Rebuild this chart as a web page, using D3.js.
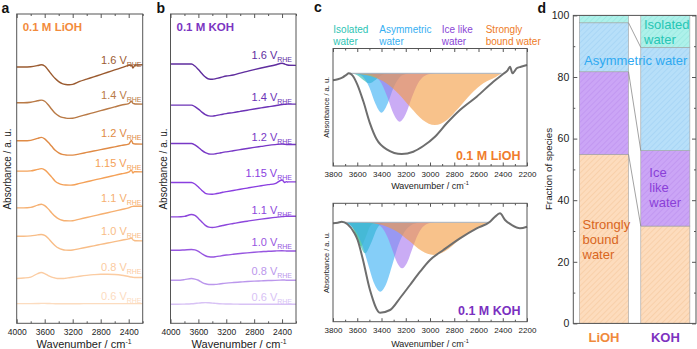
<!DOCTYPE html>
<html><head><meta charset="utf-8">
<script src="https://cdn.jsdelivr.net/npm/d3@7"></script>
<style>body{margin:0;background:#fff}svg{display:block}</style>
</head><body><svg id="chart" width="697" height="349"></svg>
<script>
// ---------------- DATA ----------------
const wnGrid = [4000,3900,3800,3700,3650,3600,3550,3500,3450,3400,3350,3300,3250,3200,3100,3000,2900,2800,2700,2600,2500,2400,2360,2340,2320,2300,2200];
const potentials = ["1.6","1.4","1.2","1.15","1.1","1.0","0.8","0.6"];
const liohSpectra = [
 [256,256,256.3,257.5,258.3,257,253,248.5,244.5,241.5,239.5,238.6,238.3,238.7,241.6,243.9,246.2,248.5,250.8,253.1,255.4,257.7,258,255,257,258,258.3],
 [220.3,220.3,220.8,222.3,223,221.8,218.3,213.8,209.8,207.3,205.7,205,204.7,204.8,206.7,208.6,210.5,212.4,214.3,216.2,218.1,219.5,221.8,219.8,219.3,219.1,219],
 [182.3,182.3,182.8,184.8,185.7,184.3,180.8,176.8,172.8,170.3,168.8,168.2,168,168,169.3,170.7,172.1,173.5,174.9,176.3,177.7,179.1,182.6,179.8,179.3,179.1,179],
 [152,152,152.3,153.8,154.5,153.2,150,146,142,139.7,138.5,138.1,138,138.2,139.8,141.4,143,144.6,146.2,147.8,149.4,151,153,150,151.5,151.4,151.3],
 [115.3,115.3,115.8,118.1,119,117.6,114.3,110.3,106.8,104.3,103,102.4,102.3,102.5,104.1,105.7,107.3,108.9,110.5,112.1,113.7,115.3,116.5,116.8,116.9,117,117],
 [87,87,87.3,88.3,88.7,87.8,85,81,77.5,75,73.7,73.1,73,73.2,74.6,76,77.4,78.8,80.2,81.6,83,84.4,85.2,83.5,82.7,82.5,82.3],
 [44.7,45.2,46.2,49.7,50.7,49.7,47.7,46.2,45.2,44.7,44.7,45,45.5,46,47,47.9,48.6,49,49,48.7,48,46.7,46.2,46,45.8,45.7,45.7],
 [19.7,19.7,19.7,19.8,19.9,19.9,19.8,19.7,19.6,19.6,19.6,19.6,19.6,19.6,19.6,19.7,19.7,19.7,19.7,19.7,19.7,19.7,19.7,19.7,19.7,19.7,19.7]
];
const kohSpectra = [
 [259,259,259,259,257,253.5,249.5,246,244,243.8,244.4,245.3,246.2,247,248,250,251.7,253.4,255,256.5,258,259.8,259,258.5,258,257.8,257.7],
 [218,218,218,218,216.5,214,211,208.5,207.2,207,207.5,208.2,208.9,209.5,210.5,211.7,212.9,214.1,215.2,216.3,217.3,218.6,218.8,218.9,219,219,219],
 [179.7,179.7,179.7,179.7,178.2,175.7,172.7,170.4,169.2,169,169.4,170,170.7,171.3,172.4,173.5,174.6,175.7,176.7,177.7,178.5,179.1,178.9,178.7,178.7,178.7,178.7],
 [140.7,140.7,140.7,140.7,139.2,136.2,132.7,129.9,129.1,129,129.4,130.1,130.9,131.5,132.7,133.9,135.1,136.3,137.4,138.5,139.5,143.2,140.7,141.5,141.2,141.3,141.3],
 [106.3,106.3,106.8,108.7,107.8,104.8,101.3,97.8,96.1,95.7,96.1,96.9,97.7,98.5,99.7,100.9,102,103.1,104.1,105,105.8,106.6,106.8,106.9,107,107,107],
 [73,73,73.3,73.7,73.3,71.8,69.5,67.5,66.5,66.3,66.6,67.1,67.7,68.2,69,69.7,70.4,71,71.5,72,72.3,72.5,72.4,72.3,72.3,72.3,72.3],
 [43,43,43.6,44.7,44.2,43,41,39.5,38.8,38.7,38.9,39.3,39.7,40.1,40.7,41.2,41.7,42.1,42.4,42.7,42.9,43.2,43.3,43,43,43,43],
 [19,19,19.2,19.5,19.8,20.2,20.5,20.7,20.5,20.2,19.9,19.6,19.4,19.3,19.2,19.1,19,19,19,19,19,19,19,19,19,19,19]
];
const liohColors = ["#9b5b30","#b97a46","#e08b46","#f4a158","#f6b071","#f8bd87","#fbcca2","#fcdcbf"];
const kohColors  = ["#5f2d9e","#6c33b6","#7838c6","#8a3fe0","#8d47dc","#9756e0","#bb97ec","#d8c2f5"];

// panel c : measured spectra
const liohMeasWn  = [3800,3760,3720,3690,3670,3640,3600,3550,3495,3440,3357,3233,3138,3055,2959,2862,2753,2615,2478,2400,2360,2340,2320,2285,2250,2200];
const liohMeasAbs = [-7,-6,-4,-1.5,0,-2,-11,-28,-50,-66,-76,-80.7,-78.4,-72.7,-63.4,-50,-36.7,-23.4,-8.4,-1,3,6.6,0,5,6.5,8.3];
const kohMeasWn   = [3800,3760,3728,3680,3624,3597,3556,3495,3412,3330,3247,3165,3082,3000,2890,2753,2615,2505,2464,2423,2381,2326,2258,2200];
const kohMeasAbs  = [-1,-0.5,0.6,-2,-10.7,-17.7,-36,-67.7,-90.4,-87.7,-75.7,-62.7,-49.4,-37.7,-27.7,-16,-6,0.6,5.6,9,2.3,-2.7,-6,-4.4];
// fitted components (wavenumber, absorbance)
const liohIsolatedWn  = [3680,3650,3600,3550,3500,3450,3400,3350,3320];
const liohIsolatedAbs = [0,-0.2,-1.9,-6.6,-10,-6.6,-1.9,-0.2,0];
const liohAsymWn  = [3650,3600,3550,3500,3450,3400,3350,3300,3250,3200,3150];
const liohAsymAbs = [0,-0.7,-3.9,-14.2,-30.5,-39.4,-30.5,-14.2,-3.9,-0.7,0];
const liohIceWn  = [3550,3500,3450,3400,3350,3300,3250,3200,3150,3100,3050,3000,2950];
const liohIceAbs = [0,-0.6,-3,-10.2,-24.2,-40.7,-48.4,-40.7,-24.2,-10.2,-3,-0.6,0];
const liohBoundWn  = [3680,3660,3560,3460,3360,3260,3160,3060,2960,2860,2760,2660,2560,2460,2410];
const liohBoundAbs = [0,-0.3,-1.2,-3.9,-9.9,-20.4,-34.2,-46.6,-51.7,-46.6,-34.2,-20.4,-9.9,-3.9,0];
const kohGreenWn  = [3700,3690,3650,3610,3570,3530,3490,3450,3440];
const kohGreenAbs = [0,-0.3,-3.2,-14.6,-24,-14.6,-3.2,-0.3,0];
const kohIsolatedWn  = [3715,3685,3635,3585,3535,3485,3435,3385,3360];
const kohIsolatedAbs = [0,-0.7,-5.9,-20.5,-31,-20.5,-5.9,-0.7,0];
const kohAsymWn  = [3728,3710,3660,3610,3560,3510,3460,3410,3360,3310,3260,3210,3160,3110,3080];
const kohAsymAbs = [0,-0.8,-3.1,-9.4,-22.5,-42.1,-61.2,-69.4,-61.2,-42.1,-22.5,-9.4,-3.1,-0.8,0];
const kohIceWn  = [3500,3470,3430,3390,3350,3310,3270,3230,3190,3150,3110,3070,3030,2990,2960];
const kohIceAbs = [0,-0.5,-2,-6.2,-15,-27.9,-40.6,-46,-40.6,-27.9,-15,-6.2,-2,-0.5,0];
const kohBoundWn  = [3600,3570,3470,3370,3270,3170,3070,2970,2870,2770,2670,2570,2518];
const kohBoundAbs = [0,-0.2,-1,-3.6,-9.4,-18.8,-28.5,-32.7,-28.5,-18.8,-9.4,-3.6,0];
const liohBaselineWn = [3680,2410];
const kohBaselineWn  = [3728,2518];
const componentNames  = ["Isolated water","Asymmetric water","Ice like water","Strongly bound water"];
const componentColors = ["#23b8a6","#33aef3","#a675ef","#f4993e"];
const legendColors    = ["#2cc4b4","#36b0f2","#8a45d6","#ee7b26"];

// panel d
const salts = ["LiOH","KOH"];
const speciesNames = ["Strongly bound water","Ice like water","Asymmetric water","Isolated water"];
const stronglyBound = [54.9, 31.6];
const iceLike = [26.8, 24.5];
const asymmetric = [15.9, 33.5];
const isolated = [2.4, 10.4];
const fractionTicks = [0,20,40,60,80,100];

// ---------------- DRAW ----------------
const FONT = '"Liberation Sans", Arial, Helvetica, sans-serif';
const svg = d3.select("#chart").attr("font-family", FONT);
const INK = "#222";
const FRAME = "#555";

function txt(g, x, y, s, size, color, opts = {}) {
  const t = g.append("text").attr("x", x).attr("y", y).attr("font-size", size)
    .attr("fill", color).text(s);
  if (opts.anchor) t.attr("text-anchor", opts.anchor);
  if (opts.bold) t.attr("font-weight", "bold");
  return t;
}
function wnTitle(g, cx, y, size) {
  const t = g.append("text").attr("x", cx).attr("y", y).attr("font-size", size)
    .attr("fill", INK).attr("text-anchor", "middle");
  t.append("tspan").text("Wavenumber / cm");
  t.append("tspan").attr("font-size", size * 0.62).attr("dy", -size * 0.4).text("-1");
}
function rotLabel(g, cx, cy, s, size) {
  g.append("text").attr("transform", `translate(${cx},${cy}) rotate(-90)`)
    .attr("text-anchor", "middle").attr("dy", "0.35em").attr("font-size", size)
    .attr("fill", INK).text(s);
}
function styleAxis(a, size) {
  a.select(".domain").remove();
  a.selectAll("line").attr("stroke", FRAME);
  a.selectAll("text").attr("font-size", size).attr("fill", INK).attr("font-family", FONT);
}
function wnAxes(g, x, y0, y1, major, minor, pad, size, majLen, minLen) {
  g.append("g").attr("transform", `translate(0,${y1})`)
    .call(d3.axisBottom(x).tickValues(major).tickSize(-majLen).tickPadding(pad).tickFormat(d3.format("d")))
    .call(a => styleAxis(a, size));
  g.append("g").attr("transform", `translate(0,${y1})`)
    .call(d3.axisBottom(x).tickValues(minor).tickSize(-minLen).tickFormat(""))
    .call(a => styleAxis(a, size));
  g.append("g").attr("transform", `translate(0,${y0})`)
    .call(d3.axisTop(x).tickValues(major).tickSize(-majLen).tickFormat(""))
    .call(a => styleAxis(a, size));
  g.append("g").attr("transform", `translate(0,${y0})`)
    .call(d3.axisTop(x).tickValues(minor).tickSize(-minLen).tickFormat(""))
    .call(a => styleAxis(a, size));
}

// ---- panels a & b ----
function spectraPanel(o) {
  const g = svg.append("g");
  const x = d3.scaleLinear().domain([4000, 2200]).range([o.x0, o.x1]);
  const y = d3.scaleLinear().domain([0, 309]).range([o.y1, o.y0]);
  const line = d3.line().x((d, i) => x(wnGrid[i])).y(d => y(d)).curve(d3.curveMonotoneX);
  o.spectra.forEach((s, k) => {
    g.append("path").attr("d", line(s)).attr("fill", "none")
      .attr("stroke", o.colors[k]).attr("stroke-width", 1.4);
  });
  g.append("rect").attr("x", o.x0).attr("y", o.y0).attr("width", o.x1 - o.x0)
    .attr("height", o.y1 - o.y0).attr("fill", "none").attr("stroke", FRAME).attr("stroke-width", 1);
  wnAxes(g, x, o.y0, o.y1, [4000, 3600, 3200, 2800, 2400], [3800, 3400, 3000, 2600, 2200], 5.5, 8.5, 4, 2);
  wnTitle(g, o.titleX, 348.3, 11);
  rotLabel(g, o.ylabX, 169, "Absorbance / a. u.", 10);
  potentials.forEach((p, k) => {
    const t = g.append("text").attr("x", o.labelX).attr("y", o.labelY[k]).attr("text-anchor", "end")
      .attr("fill", o.colors[k]).attr("font-size", 11);
    t.append("tspan").text(p + " V");
    t.append("tspan").attr("font-size", 7).attr("dy", 2.5).text("RHE");
  });
  txt(g, o.x0 + 6, 31, o.title, 11.5, o.titleColor, { bold: true });
  txt(g, o.letterX, 13, o.letter, 14, "#111", { bold: true });
}
spectraPanel({ x0: 16.7, x1: 142.7, y0: 14, y1: 323.3, spectra: liohSpectra, colors: liohColors,
  labelX: 141.5, labelY: [64, 99, 137, 167, 202, 235, 271, 300], title: "0.1 M LiOH", titleColor: "#f28b3c",
  letter: "a", letterX: 1.5, titleX: 84, ylabX: 7 });
spectraPanel({ x0: 170.5, x1: 296, y0: 14, y1: 323.3, spectra: kohSpectra, colors: kohColors,
  labelX: 292, labelY: [59, 101, 141, 177, 214, 246, 275, 301], title: "0.1 M KOH", titleColor: "#7b35c2",
  letter: "b", letterX: 156.5, titleX: 239, ylabX: 163 });

// ---- panel c ----
function fitPanel(o) {
  const g = svg.append("g");
  const x = d3.scaleLinear().domain([3800, 2200]).range([333, 527]);
  const y = d3.scaleLinear().domain(o.yDomain).range([o.y1, o.y0]);
  const area = d3.area().x(d => x(d[0])).y0(y(0)).y1(d => y(d[1])).curve(d3.curveMonotoneX);
  o.components.forEach(c => {
    g.append("path").attr("d", area(d3.zip(c.wn, c.abs))).attr("fill", c.color)
      .attr("fill-opacity", 0.6).attr("stroke", "none");
  });
  g.append("path").attr("d", d3.line()(o.baseWn.map(w => [x(w), y(0)])))
    .attr("stroke", "#a7b3c2").attr("stroke-width", 1).attr("fill", "none");
  const line = d3.line().x(d => x(d[0])).y(d => y(d[1])).curve(d3.curveMonotoneX);
  g.append("path").attr("d", line(d3.zip(o.measWn, o.measAbs))).attr("fill", "none")
    .attr("stroke", "#6e6e6e").attr("stroke-width", 2);
  g.append("rect").attr("x", 333).attr("y", o.y0).attr("width", 194).attr("height", o.y1 - o.y0)
    .attr("fill", "none").attr("stroke", FRAME).attr("stroke-width", 1);
  wnAxes(g, x, o.y0, o.y1, d3.range(3800, 2199, -200), d3.range(3700, 2200, -200), 5.5, 8, 3.5, 2);
  wnTitle(g, 430, o.titleY, 9);
  rotLabel(g, 326.5, (o.y0 + o.y1) / 2, "Absorbance / a. u.", 7.5);
  txt(g, 520.5, o.tagY, o.tag, 12.5, o.tagColor, { bold: true, anchor: "end" });
}
fitPanel({ y0: 48.5, y1: 166, yDomain: [-92.7, 24.8], measWn: liohMeasWn, measAbs: liohMeasAbs,
  baseWn: liohBaselineWn, titleY: 189, tag: "0.1 M LiOH", tagColor: "#f07c2c", tagY: 160,
  components: [
    { wn: liohIsolatedWn, abs: liohIsolatedAbs, color: componentColors[0] },
    { wn: liohAsymWn, abs: liohAsymAbs, color: componentColors[1] },
    { wn: liohIceWn, abs: liohIceAbs, color: componentColors[2] },
    { wn: liohBoundWn, abs: liohBoundAbs, color: componentColors[3] }] });
fitPanel({ y0: 203.3, y1: 321.7, yDomain: [-99.4, 19], measWn: kohMeasWn, measAbs: kohMeasAbs,
  baseWn: kohBaselineWn, titleY: 346.8, tag: "0.1 M KOH", tagColor: "#7a30c0", tagY: 315,
  components: [
    { wn: kohGreenWn, abs: kohGreenAbs, color: "#8fd67f" },
    { wn: kohIsolatedWn, abs: kohIsolatedAbs, color: componentColors[0] },
    { wn: kohAsymWn, abs: kohAsymAbs, color: componentColors[1] },
    { wn: kohIceWn, abs: kohIceAbs, color: componentColors[2] },
    { wn: kohBoundWn, abs: kohBoundAbs, color: componentColors[3] }] });
{
  const g = svg.append("g");
  const legX = [333.3, 379.3, 441.7, 485.7];
  const legLines = [["Isolated", "water"], ["Asymmetric", "water"], ["Ice like", "water"], ["Strongly", "bound water"]];
  legLines.forEach((ls, k) => {
    ls.forEach((s, j) => txt(g, legX[k], 32.5 + j * 12.3, s, 10, legendColors[k]));
  });
  txt(g, 314, 12, "c", 14, "#111", { bold: true });
}

// ---- panel d ----
{
  const g = svg.append("g");
  const x0 = 573.3, x1 = 696, y0 = 15.4, y1 = 323.4;
  const x = d3.scaleBand().domain(salts).range([x0, x1]).paddingInner(0.2).paddingOuter(0.1);
  const y = d3.scaleLinear().domain([0, 100]).range([y1, y0]);
  const table = salts.map((s, i) => ({ salt: s, "Strongly bound water": stronglyBound[i],
    "Ice like water": iceLike[i], "Asymmetric water": asymmetric[i], "Isolated water": isolated[i] }));
  const stack = d3.stack().keys(speciesNames)(table);
  const base = ["#fddcbd", "#cba5f6", "#b7dff9", "#aef1ea"];
  const hatch = ["#f3c597", "#b98cec", "#9ccdf2", "#8fe3da"];
  const defs = svg.append("defs");
  base.forEach((c, k) => {
    const p = defs.append("pattern").attr("id", "h" + k).attr("patternUnits", "userSpaceOnUse")
      .attr("width", 4).attr("height", 4).attr("patternTransform", "rotate(45)");
    p.append("rect").attr("width", 4).attr("height", 4).attr("fill", c);
    p.append("line").attr("x1", 0).attr("y1", 0).attr("x2", 0).attr("y2", 4)
      .attr("stroke", hatch[k]).attr("stroke-width", 1);
  });
  stack.forEach((layer, k) => {
    g.selectAll(null).data(layer).enter().append("rect")
      .attr("x", d => x(d.data.salt)).attr("width", x.bandwidth())
      .attr("y", d => y(d[1])).attr("height", d => y(d[0]) - y(d[1]))
      .attr("fill", `url(#h${k})`).attr("stroke", "#a0a0a0").attr("stroke-width", 0.6);
  });
  stack.slice(0, 3).forEach(layer => {
    g.append("line").attr("x1", x("LiOH") + x.bandwidth()).attr("y1", y(layer[0][1]))
      .attr("x2", x("KOH")).attr("y2", y(layer[1][1])).attr("stroke", "#8a8a8a").attr("stroke-width", 0.8);
  });
  g.append("rect").attr("x", x0).attr("y", y0).attr("width", x1 - x0).attr("height", y1 - y0)
    .attr("fill", "none").attr("stroke", FRAME).attr("stroke-width", 1);
  g.append("g").attr("transform", `translate(${x0},0)`)
    .call(d3.axisLeft(y).tickValues(fractionTicks).tickSize(-4).tickPadding(4))
    .call(a => styleAxis(a, 10.5));
  g.append("g").attr("transform", `translate(${x0},0)`)
    .call(d3.axisLeft(y).tickValues([10, 30, 50, 70, 90]).tickSize(-2).tickFormat(""))
    .call(a => styleAxis(a, 10));
  g.append("g").attr("transform", `translate(${x1},0)`)
    .call(d3.axisRight(y).tickValues(fractionTicks).tickSize(-4).tickFormat(""))
    .call(a => styleAxis(a, 10));
  g.append("g").attr("transform", `translate(${x1},0)`)
    .call(d3.axisRight(y).tickValues([10, 30, 50, 70, 90]).tickSize(-2).tickFormat(""))
    .call(a => styleAxis(a, 10));
  const saltColors = ["#f08a3c", "#7d32c0"];
  g.append("g").attr("transform", `translate(0,${y1})`)
    .call(d3.axisBottom(x).tickSize(0).tickPadding(9))
    .call(a => styleAxis(a, 13))
    .call(a => a.selectAll("text").attr("font-weight", "bold").attr("fill", (d, i) => saltColors[i]));
  rotLabel(g, 548.5, 169, "Fraction of species", 9.8);
  const lab = (lines, x, y, color) => lines.forEach((s, j) => txt(g, x, y + j * 15.3, s, 13, color));
  lab(["Isolated", "water"], 644, 28.8, "#26c6b4");
  lab(["Asymmetric water"], 584, 64.5, "#2ea9f1");
  lab(["Ice", "like", "water"], 649.3, 176.5, "#8a3fd8");
  lab(["Strongly", "bound", "water"], 582.5, 228.5, "#d9661e");
  txt(g, 537.5, 12.7, "d", 14, "#111", { bold: true });
}
</script></body></html>
